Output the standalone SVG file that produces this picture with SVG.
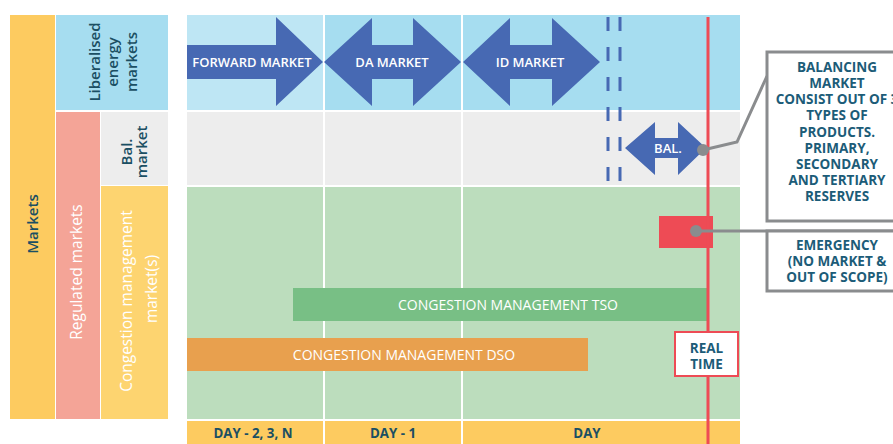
<svg xmlns="http://www.w3.org/2000/svg" width="893" height="444" viewBox="0 0 893 444">
<defs>
<style>
.t{font-family:"Open Sans","Liberation Sans",sans-serif;}
.lab{font-size:15px;font-weight:600;fill:#1B4F63;}
.wlab{font-size:15.5px;font-weight:400;fill:#FFFFFF;}
.arr{fill:#4769B3;}
.atxt{font-size:13px;font-weight:600;fill:#FFFFFF;text-anchor:middle;}
.bar{font-size:14px;font-weight:400;fill:#FFFFFF;text-anchor:middle;}
.note{font-size:13.5px;font-weight:700;fill:#1C5C78;text-anchor:middle;}
.day{font-size:13.3px;font-weight:700;fill:#1B4F63;text-anchor:middle;}
.box{fill:#FFFFFF;stroke:#8A8C8E;stroke-width:3;}
.conn{fill:none;stroke:#8A8C8E;stroke-width:3;}
.dash{stroke:#4769B3;stroke-width:3;stroke-dasharray:14 16;}
</style>
</defs>
<rect width="893" height="444" fill="#FFFFFF"/>

<g id="markets">
<rect x="10" y="15" width="45" height="404" fill="#FDCB60"/>
<text class="t lab" font-weight="700" font-size="16" transform="translate(38,224) rotate(-90)" text-anchor="middle">Markets</text>
</g>
<g id="liberalised">
<rect x="56" y="15" width="112" height="95" fill="#A6DDF0"/>
<text class="t lab" transform="translate(100,62) rotate(-90)" text-anchor="middle">Liberalised</text>
<text class="t lab" transform="translate(118,62) rotate(-90)" text-anchor="middle">energy</text>
<text class="t lab" transform="translate(137,62) rotate(-90)" text-anchor="middle">markets</text>
</g>
<g id="regulated">
<rect x="56" y="112" width="44" height="307" fill="#F4A497"/>
<text class="t wlab" transform="translate(82,272) rotate(-90)" text-anchor="middle">Regulated markets</text>
</g>
<g id="bal-market">
<rect x="101" y="112" width="67" height="73" fill="#EDEDED"/>
<text class="t lab" font-weight="700" transform="translate(132,152) rotate(-90)" text-anchor="middle">Bal.</text>
<text class="t lab" font-weight="700" transform="translate(147,152) rotate(-90)" text-anchor="middle">market</text>
</g>
<g id="cm-market">
<rect x="101" y="186" width="67" height="233" fill="#FDD470"/>
<text class="t wlab" transform="translate(132,301) rotate(-90)" text-anchor="middle">Congestion management</text>
<text class="t wlab" transform="translate(157,289) rotate(-90)" text-anchor="middle">market(s)</text>
</g>

<g id="grid">
<rect x="187" y="15" width="136" height="95" fill="#BEE6F4"/>
<rect x="325" y="15" width="136" height="95" fill="#A6DDF0"/>
<rect x="463" y="15" width="277" height="95" fill="#A6DDF0"/>
<rect x="187" y="112" width="136" height="73" fill="#EDEDED"/>
<rect x="325" y="112" width="136" height="73" fill="#EDEDED"/>
<rect x="463" y="112" width="277" height="73" fill="#EDEDED"/>
<rect x="187" y="187" width="136" height="232" fill="#BCDDBD"/>
<rect x="325" y="187" width="136" height="232" fill="#BCDDBD"/>
<rect x="463" y="187" width="277" height="232" fill="#BCDDBD"/>
<rect x="187" y="421" width="136" height="23" fill="#FDCB60"/>
<rect x="325" y="421" width="136" height="23" fill="#FDCB60"/>
<rect x="463" y="421" width="277" height="23" fill="#FDCB60"/>
<text class="t day" x="253" y="438">DAY - 2, 3, N</text>
<text class="t day" x="393" y="438">DAY - 1</text>
<text class="t day" x="587" y="438">DAY</text>
</g>

<g id="forward-market">
<polygon class="arr" points="187,45 276,45 276,17 323,62 276,106 276,79 187,79"/>
<text class="t atxt" x="252" y="66.5">FORWARD MARKET</text>
</g>
<g id="da-market">
<polygon class="arr" points="324,62 372,18 372,45 413,45 413,18 461,62 413,106 413,79 372,79 372,106"/>
<text class="t atxt" x="392" y="66.5">DA MARKET</text>
</g>
<g id="id-market">
<polygon class="arr" points="463,62 510,18 510,45 552,45 552,18 600,62 552,106 552,79 510,79 510,106"/>
<text class="t atxt" x="530" y="66.5">ID MARKET</text>
</g>

<g id="cm-tso">
<rect x="293" y="288" width="414" height="33" fill="#78BF85"/>
<text class="t bar" x="508" y="309.5">CONGESTION MANAGEMENT TSO</text>
</g>
<g id="cm-dso">
<rect x="187" y="338" width="401" height="33" fill="#E8A04E"/>
<text class="t bar" x="404" y="359.5">CONGESTION MANAGEMENT DSO</text>
</g>

<g id="gate-closure">
<line class="dash" x1="608" y1="17" x2="608" y2="185"/>
<line class="dash" x1="620" y1="17" x2="620" y2="185"/>
</g>

<g id="bal">
<polygon class="arr" points="625,148 655,122 655,138 678,138 678,122 706,148 678,175 678,158 655,158 655,175"/>
<text class="t atxt" font-weight="400" font-size="15" x="668" y="153">BAL.</text>
</g>

<g id="emergency">
<rect x="659" y="216" width="54" height="32" fill="#EE4B55"/>
</g>

<g id="realtime-line">
<line x1="708" y1="17" x2="708" y2="444" stroke="#EE4B55" stroke-width="3"/>
</g>

<g id="real-time">
<rect x="675" y="332" width="63" height="44" fill="#FFFFFF" stroke="#EE4B55" stroke-width="2"/>
<text class="t note" font-size="16" x="706.5" y="353">REAL</text>
<text class="t note" font-size="16" x="706.5" y="369">TIME</text>
</g>

<g id="connectors">
<polyline class="conn" points="703,150 737,142 767,76"/>
<line class="conn" x1="696" y1="231" x2="893" y2="231"/>
<circle cx="703" cy="150" r="6" fill="#8A8C8E"/>
<circle cx="696" cy="231" r="6" fill="#8A8C8E"/>
</g>

<g id="balancing-note">
<rect class="box" x="767" y="52" width="140" height="169"/>
<text class="t note" x="837" y="72">BALANCING</text>
<text class="t note" x="837" y="88">MARKET</text>
<text class="t note" x="837" y="104">CONSIST OUT OF 3</text>
<text class="t note" x="837" y="120">TYPES OF</text>
<text class="t note" x="837" y="137">PRODUCTS.</text>
<text class="t note" x="837" y="153">PRIMARY,</text>
<text class="t note" x="837" y="169">SECONDARY</text>
<text class="t note" x="837" y="185">AND TERTIARY</text>
<text class="t note" x="837" y="201">RESERVES</text>
</g>
<g id="emergency-note">
<rect class="box" x="767" y="231" width="140" height="60"/>
<text class="t note" x="837" y="250">EMERGENCY</text>
<text class="t note" x="837" y="266">(NO MARKET &amp;</text>
<text class="t note" x="837" y="282">OUT OF SCOPE)</text>
</g>
</svg>
